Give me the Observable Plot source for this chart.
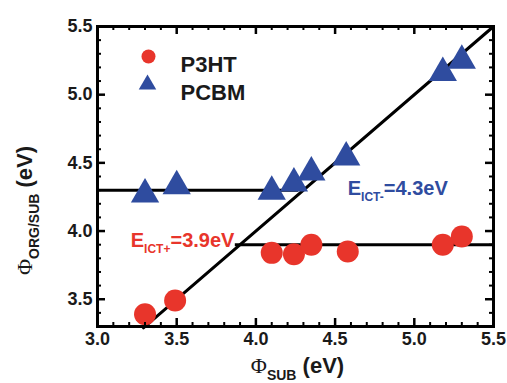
<!DOCTYPE html>
<html><head><meta charset="utf-8">
<script src="https://cdn.jsdelivr.net/npm/d3@7"></script>
<script src="https://cdn.jsdelivr.net/npm/@observablehq/plot@0.6"></script>
<style>
html,body{margin:0;padding:0;background:#fff;}
</style></head><body><div id="chart"></div>
<script>
// Data
const seriesNames = ["P3HT", "PCBM"];
const p3htX = [3.30, 3.49, 4.10, 4.24, 4.35, 4.58, 5.18, 5.30];
const p3htY = [3.39, 3.49, 3.84, 3.83, 3.90, 3.85, 3.90, 3.96];
const pcbmX = [3.30, 3.50, 4.10, 4.24, 4.35, 4.57, 5.18, 5.30];
const pcbmY = [4.27, 4.33, 4.29, 4.35, 4.43, 4.54, 5.16, 5.25];
const diagX = [3.29, 5.50];
const diagY = [3.29, 5.50];
const levelY = [3.9, 4.3];
const levelX1 = [3.87, 3.0];
const levelX2 = [5.5, 4.27];
const annotText = ["E_{ICT+}=3.9eV", "E_{ICT-}=4.3eV"];
const annotX = [3.21, 4.58];
const annotY = [3.93, 4.31];
const xTicks = [3.0, 3.5, 4.0, 4.5, 5.0, 5.5];
const yTicks = [3.5, 4.0, 4.5, 5.0, 5.5];
const xMinor = [3.1, 3.2, 3.3, 3.4, 3.6, 3.7, 3.8, 3.9, 4.1, 4.2, 4.3, 4.4, 4.6, 4.7, 4.8, 4.9, 5.1, 5.2, 5.3, 5.4];
const yMinor = [3.4, 3.6, 3.7, 3.8, 3.9, 4.1, 4.2, 4.3, 4.4, 4.6, 4.7, 4.8, 4.9, 5.1, 5.2, 5.3, 5.4];
const xLabel = "Φ_{SUB} (eV)";
const yLabel = "Φ_{ORG/SUB} (eV)";

const RED = "#e8352b", BLUE = "#2f4c9f";

const p3ht = p3htX.map((x, i) => ({x, y: p3htY[i]}));
const pcbm = pcbmX.map((x, i) => ({x, y: pcbmY[i]}));
const diag = diagX.map((x, i) => ({x, y: diagY[i]}));
const levels = levelY.map((y, i) => ({y, x1: levelX1[i], x2: levelX2[i]}));
const annots = annotText.map((t, i) => ({t, x: annotX[i], y: annotY[i], c: i === 0 ? RED : BLUE}));

const W = 507, H = 383;
const M = {left: 97, right: 14, top: 26, bottom: 57};
const frameW = W - M.left - M.right, frameH = H - M.top - M.bottom;

// inward ticks as frame-spanning rules inset to a short length
function ticksX(vals, len, sw) {
  return [
    Plot.ruleX(vals, {x: d => d, insetTop: frameH - len, stroke: "#000", strokeWidth: sw}),
    Plot.ruleX(vals, {x: d => d, insetBottom: frameH - len, stroke: "#000", strokeWidth: sw})
  ];
}
function ticksY(vals, len, sw) {
  return [
    Plot.ruleY(vals, {y: d => d, insetRight: frameW - len, stroke: "#000", strokeWidth: sw}),
    Plot.ruleY(vals, {y: d => d, insetLeft: frameW - len, stroke: "#000", strokeWidth: sw})
  ];
}

const plot = Plot.plot({
  width: W, height: H,
  marginLeft: M.left, marginRight: M.right, marginTop: M.top, marginBottom: M.bottom,
  style: {fontFamily: "'Liberation Sans', Arial, sans-serif", fontWeight: "bold", background: "#fff", color: "#1a1a1a"},
  x: {domain: [3.0, 5.5]},
  y: {domain: [3.3, 5.5]},
  marks: [
    // lines
    Plot.line(diag, {x: "x", y: "y", stroke: "#000", strokeWidth: 3}),
    Plot.ruleY(levels, {y: "y", x1: "x1", x2: "x2", stroke: "#000", strokeWidth: 3}),
    // data
    Plot.dot(p3ht, {x: "x", y: "y", r: 11, fill: RED}),
    Plot.dot(pcbm, {x: "x", y: "y", r: 10.5, symbol: "triangle", fill: BLUE}),
    // annotations
    Plot.text(annots, {x: "x", y: "y", text: "t", fill: "c", textAnchor: "start", fontSize: 20, className: "subtext", letterSpacing: -0.5}),
    // legend
    Plot.dot([seriesNames[0]], {frameAnchor: "top-left", dx: 51, dy: 30, r: 7, fill: RED}),
    Plot.dot([seriesNames[1]], {frameAnchor: "top-left", dx: 50, dy: 58, r: 6.5, symbol: "triangle", fill: BLUE}),
    Plot.text([seriesNames[0]], {frameAnchor: "top-left", dx: 83, dy: 30, text: d => d, textAnchor: "start", fontSize: 22, letterSpacing: -1, fill: "#1a1a1a"}),
    Plot.text([seriesNames[1]], {frameAnchor: "top-left", dx: 83, dy: 58, text: d => d, textAnchor: "start", fontSize: 22, letterSpacing: -1, fill: "#1a1a1a"}),
    // axis tick labels
    Plot.axisX({ticks: xTicks, tickFormat: ".1f", tickSize: 0, tickPadding: 6, fontSize: 18, label: null, letterSpacing: -0.5}),
    Plot.axisY({ticks: yTicks, tickFormat: ".1f", tickSize: 0, tickPadding: 5, fontSize: 18, label: null, letterSpacing: -0.5}),
    // inward ticks
    ...ticksX(xTicks, 8, 2.5),
    ...ticksY(yTicks, 8, 2.5),
    ...ticksX(xMinor, 4, 2),
    ...ticksY(yMinor, 4, 2),
    Plot.frame({stroke: "#000", strokeWidth: 3}),
    // axis titles
    Plot.text([xLabel], {frameAnchor: "bottom", dx: 2, dy: 39, text: d => d, textAnchor: "middle", fontSize: 22, lineAnchor: "middle", fill: "#1a1a1a", className: "subtext"}),
    Plot.text([yLabel], {frameAnchor: "left", dx: -73, dy: 34, rotate: -90, text: d => d, textAnchor: "middle", fontSize: 22, lineAnchor: "middle", fill: "#1a1a1a", className: "subtext"})
  ]
});

// convert _{...} to subscripts, Φ to serif glyph
d3.select(plot).selectAll(".subtext text").each(function () {
  const t = d3.select(this);
  const s = t.text();
  const fs = parseFloat(t.attr("font-size") || this.parentNode.getAttribute("font-size") || 20);
  t.text("");
  const parts = s.split(/(_\{[^}]*\}|Φ)/);
  let shifted = 0;
  for (const p of parts) {
    if (!p) continue;
    if (p.startsWith("_{")) {
      const sh = Math.round(fs * 0.3);
      t.append("tspan").attr("font-size", Math.round(fs * 0.62)).attr("dy", sh - shifted).text(p.slice(2, -1));
      shifted = sh;
    } else if (p === "Φ") {
      t.append("tspan").attr("font-family", "'Liberation Serif', 'DejaVu Serif', serif").attr("font-weight", "normal").attr("dy", -shifted).text(p);
      shifted = 0;
    } else {
      t.append("tspan").attr("dy", -shifted).text(p);
      shifted = 0;
    }
  }
});

document.getElementById("chart").appendChild(plot);
</script>
</body></html>
